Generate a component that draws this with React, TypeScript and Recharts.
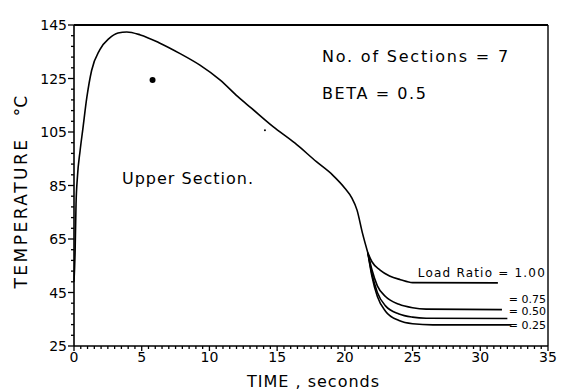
import { LineChart, Line, XAxis, YAxis, ReferenceLine, ReferenceDot } from "recharts";

// heating phase, shared by every load ratio until the curves split near 21.7 s
const upperTime = [0, 0.08, 0.15, 0.25, 0.45, 0.65, 0.95, 1.3, 1.9, 2.6, 3.25, 3.9, 4.9, 6.35, 7.8, 9.3, 10.8, 12.1, 13.1, 14.7, 16.3, 17.9, 19.1, 20.0, 20.5, 20.9, 21.3, 21.7];
const upperTemp = [49, 60, 78, 88, 98, 106, 118, 128, 135.7, 140, 142, 142.4, 141.3, 138.2, 134.4, 130, 124.4, 118.2, 113.9, 107, 100.9, 93.9, 88.9, 84, 80.5, 75.8, 67.2, 59.8];

// cooling tails per load ratio
const ratio100Time = [21.7, 22.0, 22.6, 23.3, 24.1, 25, 31.3];
const ratio100Temp = [59.8, 56.5, 53.4, 51.2, 49.8, 48.7, 48.6];
const ratio075Time = [21.7, 22.0, 22.4, 23.0, 24, 25, 26, 31.6];
const ratio075Temp = [59.8, 53.5, 47.5, 43.5, 40.6, 39.3, 38.8, 38.6];
const ratio050Time = [21.7, 22.0, 22.4, 23.0, 24, 25, 26, 32.0];
const ratio050Temp = [59.8, 52, 45, 40, 37, 35.8, 35.4, 35.3];
const ratio025Time = [21.7, 22.0, 22.4, 23.0, 24, 25, 26.5, 32.3];
const ratio025Temp = [59.8, 51, 43.5, 38, 34.5, 33.3, 32.9, 32.9];

const majorX = [0, 5, 10, 15, 20, 25, 30, 35];
const majorY = [25, 45, 65, 85, 105, 125, 145];

const xTicks: number[] = [];
for (let v = 0; v <= 35; v += 0.5) xTicks.push(v);
const yTicks: number[] = [];
for (let v = 25; v <= 145; v += 4) yTicks.push(v);

const toRows = (ts: number[], temps: number[]) => ts.map((t, i) => ({ t, T: temps[i] }));

const FONT = "'DejaVu Sans', sans-serif";

const YTick = (props: any) => {
  const { x, y, payload } = props;
  const major = majorY.includes(payload.value);
  return (
    <g>
      <line x1={x} x2={x - (major ? 6 : 3)} y1={y} y2={y} stroke="#000" strokeWidth={1.3} />
      {major && (
        <text x={x - 7} y={y} dy={5} textAnchor="end" fontSize={14} fontFamily={FONT} fill="#000">
          {payload.value}
        </text>
      )}
    </g>
  );
};

const XTick = (props: any) => {
  const { x, y, payload } = props;
  const major = majorX.includes(payload.value);
  return (
    <g>
      <line x1={x} x2={x} y1={y} y2={y + (major ? 5 : 3)} stroke="#000" strokeWidth={1.3} />
      {major && (
        <text x={x} y={y} dy={16} textAnchor="middle" fontSize={14} fontFamily={FONT} fill="#000">
          {payload.value}
        </text>
      )}
    </g>
  );
};

const series = [
  { key: "upper", data: toRows(upperTime, upperTemp) },
  { key: "r100", data: toRows(ratio100Time, ratio100Temp) },
  { key: "r075", data: toRows(ratio075Time, ratio075Temp) },
  { key: "r050", data: toRows(ratio050Time, ratio050Temp) },
  { key: "r025", data: toRows(ratio025Time, ratio025Temp) },
];

export default function App() {
  return (
    <div style={{ position: "absolute", left: 0, top: 0, width: 565, height: 390, background: "#fff" }}>
      <LineChart width={565} height={390} margin={{ top: 25, right: 17, bottom: 14, left: 24 }}>
        <XAxis
          type="number"
          dataKey="t"
          domain={[0, 35]}
          ticks={xTicks}
          interval={0}
          tickSize={0}
          tickMargin={0}
          tickLine={false}
          tick={<XTick />}
          height={30}
          axisLine={{ stroke: "#000", strokeWidth: 1.6 }}
          allowDuplicatedCategory={false}
        />
        <YAxis
          type="number"
          dataKey="T"
          domain={[25, 145]}
          ticks={yTicks}
          interval={0}
          tickSize={0}
          tickMargin={0}
          tickLine={false}
          tick={<YTick />}
          width={50}
          axisLine={{ stroke: "#000", strokeWidth: 1.6 }}
        />
        <ReferenceLine y={145} stroke="#000" strokeWidth={1.8} />
        <ReferenceLine x={35} stroke="#000" strokeWidth={1.4} />
        {series.map((s) => (
          <Line
            key={s.key}
            data={s.data}
            dataKey="T"
            type="monotone"
            stroke="#000"
            strokeWidth={1.6}
            dot={false}
            isAnimationActive={false}
          />
        ))}
        <ReferenceDot x={5.8} y={124.4} r={3} fill="#000" stroke="none" />
        <ReferenceDot x={14.1} y={105.7} r={1} fill="#000" stroke="none" />
      </LineChart>
      <svg width={565} height={390} style={{ position: "absolute", left: 0, top: 0, pointerEvents: "none" }}>
        <g fontFamily={FONT} fill="#000">
          <text x={322} y={62} fontSize={16} letterSpacing={1.8}>No. of Sections = 7</text>
          <text x={322} y={99} fontSize={16} letterSpacing={1.6}>BETA = 0.5</text>
          <text x={122} y={184} fontSize={16} letterSpacing={1}>Upper Section.</text>
          <text x={546} y={277} fontSize={12} textAnchor="end" letterSpacing={1.2}>Load Ratio = 1.00</text>
          <text x={546} y={303} fontSize={11} textAnchor="end">= 0.75</text>
          <text x={546} y={315} fontSize={11} textAnchor="end">= 0.50</text>
          <text x={546} y={329} fontSize={11} textAnchor="end">= 0.25</text>
          <text x={247} y={387} fontSize={16} letterSpacing={1}>TIME , seconds</text>
          <text transform="translate(27,213) rotate(-90)" fontSize={17} textAnchor="middle" letterSpacing={2.5}>TEMPERATURE</text>
          <text transform="translate(27,106) rotate(-90)" fontSize={17} textAnchor="middle">°C</text>
        </g>
      </svg>
    </div>
  );
}
